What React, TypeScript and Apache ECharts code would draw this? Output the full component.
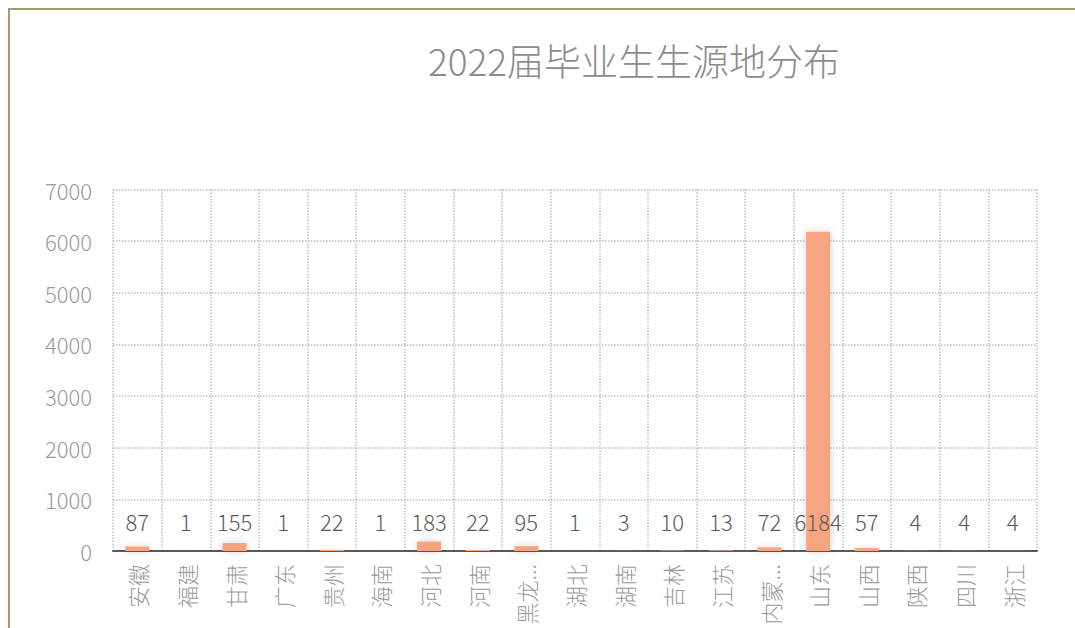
import React, { useEffect, useRef } from "react";
import * as echarts from "echarts";

const title = "2022届毕业生生源地分布";
const provinces = ["安徽", "福建", "甘肃", "广东", "贵州", "海南", "河北", "河南", "黑龙江", "湖北", "湖南", "吉林", "江苏", "内蒙古", "山东", "山西", "陕西", "四川", "浙江"];
const counts = [87, 1, 155, 1, 22, 1, 183, 22, 95, 1, 3, 10, 13, 72, 6184, 57, 4, 4, 4];
const yMax = 7000;
const yInterval = 1000;

export default function App() {
  const ref = useRef<HTMLDivElement>(null);
  useEffect(() => {
    document.body.style.margin = "0";
    const chart = echarts.init(ref.current!, null, { renderer: "svg" });
    const font = "'Noto Sans CJK SC', 'Noto Sans', sans-serif";
    chart.setOption({
      animation: false,
      backgroundColor: "#ffffff",
      title: {
        text: title,
        left: 629,
        textAlign: "center",
        top: 36,
        textStyle: { fontFamily: font, fontSize: 37, fontWeight: 300, color: "#8c8c8c" },
      },
      graphic: [
        {
          type: "polyline",
          shape: { points: [[9, 640], [9, 9], [1090, 9]] },
          style: { stroke: "#a59c68", lineWidth: 2, fill: "none" },
          silent: true,
        },
      ],
      grid: { left: 113, right: 38, top: 189.5, bottom: 77, containLabel: false },
      xAxis: {
        type: "category",
        data: provinces,
        boundaryGap: true,
        axisLine: { show: true, lineStyle: { color: "#595959", width: 2 } },
        axisTick: { show: false },
        axisLabel: {
          interval: 0,
          rotate: 90,
          margin: 13,
          fontFamily: font,
          fontSize: 22,
          fontWeight: 300,
          color: "#999999",
          formatter: (v: string) => (v.length > 2 ? v.slice(0, 2) + "..." : v),
        },
        splitLine: { show: true, interval: 0, lineStyle: { color: "#bfbfbf", type: "dotted", width: 1.5 } },
      },
      yAxis: {
        type: "value",
        min: 0,
        max: yMax,
        interval: yInterval,
        axisLine: { show: false },
        axisTick: { show: false },
        axisLabel: {
          fontFamily: font,
          fontSize: 22,
          fontWeight: 300,
          color: "#999999",
          margin: 21,
          formatter: (v: number) => String(v),
        },
        splitLine: { show: true, lineStyle: { color: "#bfbfbf", type: "dotted", width: 1.5 } },
      },
      series: [
        {
          type: "bar",
          data: counts,
          barWidth: 24,
          itemStyle: {
            color: "#f6a57e",
            shadowBlur: 8,
            shadowColor: "rgba(0,0,0,0.18)",
          },
          label: {
            show: true,
            position: "insideBottom",
            distance: 19,
            fontFamily: font,
            fontSize: 22,
            fontWeight: 300,
            color: "#595959",
          },
          z: 3,
        },
      ],
    });
    return () => chart.dispose();
  }, []);
  return <div ref={ref} style={{ width: 1075, height: 628 }} />;
}
